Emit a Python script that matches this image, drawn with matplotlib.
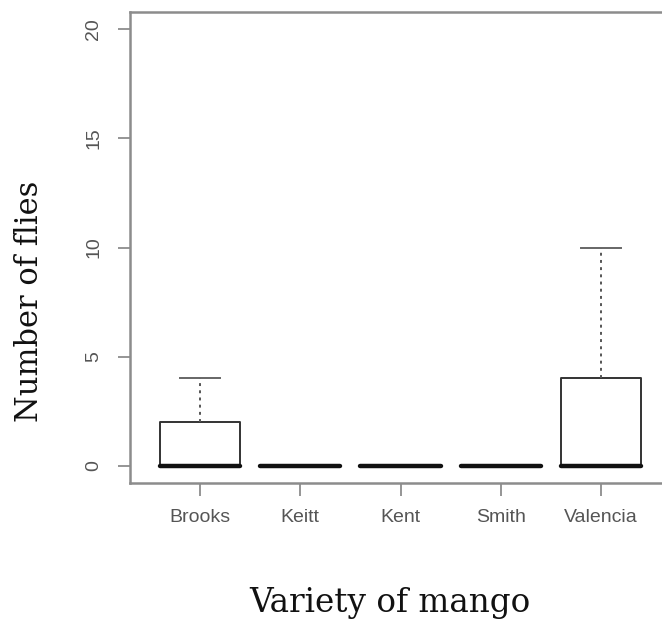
import matplotlib
matplotlib.use("Agg")
import matplotlib.pyplot as plt

# data (boxplot summary per variety)
varieties = ["Brooks", "Keitt", "Kent", "Smith", "Valencia"]
q1 = [0, 0, 0, 0, 0]
median = [0, 0, 0, 0, 0]
q3 = [2, 0, 0, 0, 4]
whis_lo = [0, 0, 0, 0, 0]
whis_hi = [4, 0, 0, 0, 10]
y_ticks = [0, 5, 10, 15, 20]

W, H = 662, 624
fig = plt.figure(figsize=(W / 100, H / 100), dpi=100)
# R-style plot region; right edge runs past the image like the reference crop
ax = fig.add_axes([130 / W, 1 - 483 / H, (671 - 130) / W, (483 - 12) / H])

stats = [dict(label=v, q1=a, med=m, q3=b, whislo=lo, whishi=hi, fliers=[])
         for v, a, m, b, lo, hi in zip(varieties, q1, median, q3, whis_lo, whis_hi)]
ax.bxp(stats, positions=range(1, len(varieties) + 1), widths=0.8, capwidths=0.4,
       showfliers=False,
       boxprops=dict(color="#333333", lw=1.4),
       medianprops=dict(color="#111111", lw=3.2, solid_capstyle="round"),
       whiskerprops=dict(color="#555555", lw=1.4, linestyle=(0, (1.5, 2.2))),
       capprops=dict(color="#666666", lw=1.4))

ax.set_xlim(0.3, 5.7)
ax.set_ylim(-0.8, 20.8)
ax.set_yticks(y_ticks)
ax.set_yticklabels([str(t) for t in y_ticks], rotation=90, va="center")

for s in ax.spines.values():
    s.set_color("#8c8c8c")
    s.set_linewidth(1.8)
ax.spines["right"].set_visible(False)
ax.tick_params(axis="both", color="#8c8c8c", width=1.3, length=9,
               labelcolor="#555555", labelsize=14)
ax.tick_params(axis="x", pad=10)
ax.tick_params(axis="y", pad=11)
for lab in ax.get_xticklabels() + ax.get_yticklabels():
    lab.set_family("Liberation Sans")

fig.text(30 / W, 1 - 301 / H, "Number of flies", rotation=90, ha="center", va="center",
         family="DejaVu Serif", fontsize=22, color="#111111")
fig.text(390 / W, 1 - 603 / H, "Variety of mango", ha="center", va="center",
         family="DejaVu Serif", fontsize=23.5, color="#111111")

fig.savefig("out.png", dpi=100)
